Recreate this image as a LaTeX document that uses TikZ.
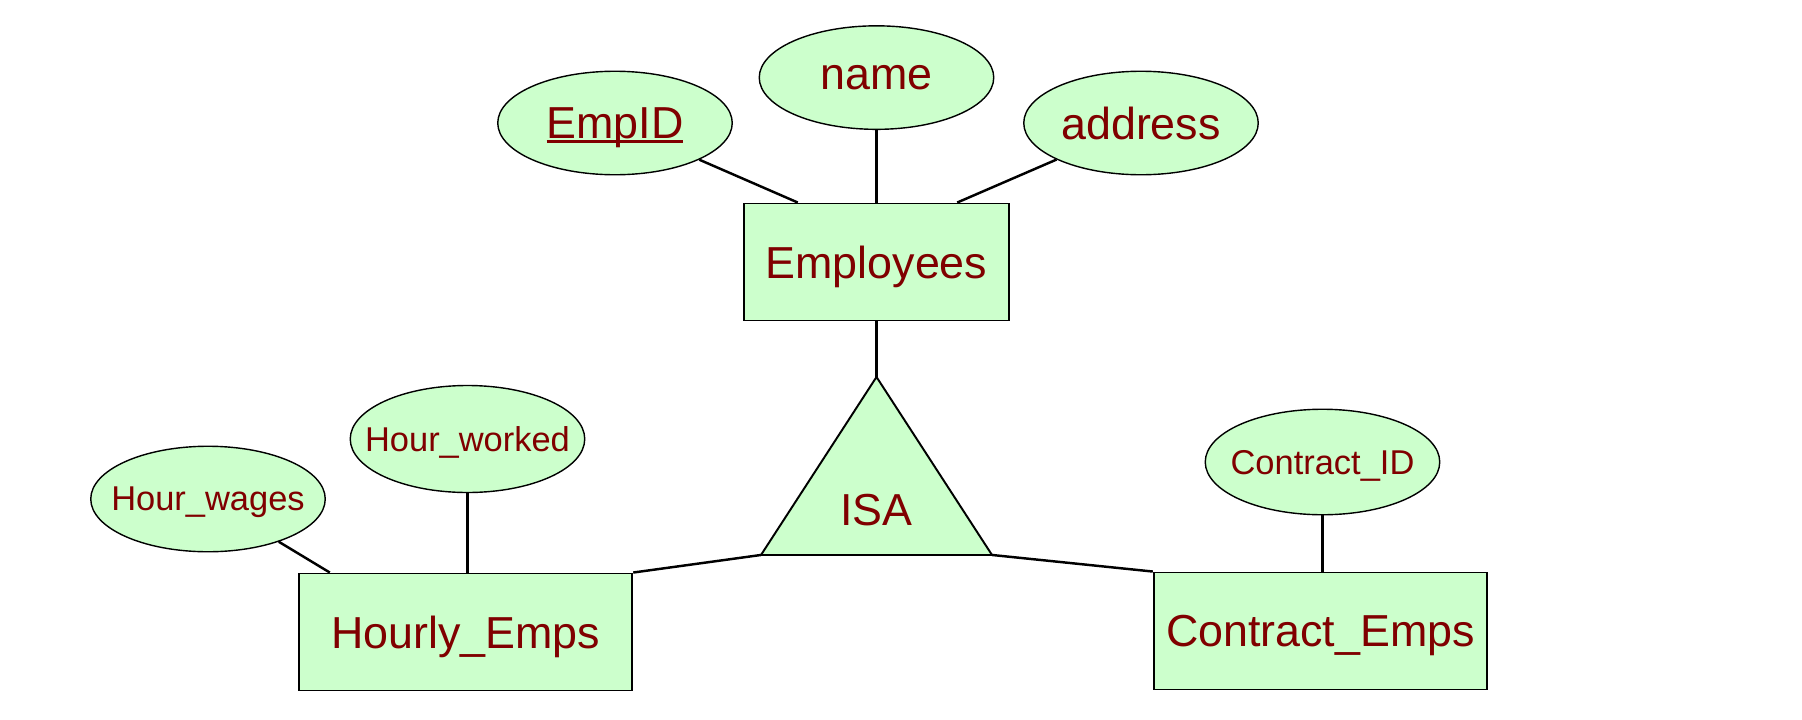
\documentclass[tikz,border=0pt]{standalone}
\usepackage{fontspec}
\setmainfont{Liberation Sans}
\usetikzlibrary{positioning,shapes.geometric,calc}

\definecolor{ergreen}{HTML}{CCFFCC}
\definecolor{erred}{HTML}{800000}
\newcommand{\bigtxt}{\fontsize{25.5}{30}\selectfont}
\newcommand{\smalltxt}{\fontsize{19.6}{23}\selectfont}
\newcommand{\fixw}[1]{\makebox[0pt]{#1}}
\newcommand{\keyul}[1]{\setbox0\hbox{#1}\rlap{\rule[-0.11em]{\wd0}{0.07em}}\box0}

\begin{document}
\begin{tikzpicture}[
    entity/.style={rectangle, draw=black, fill=ergreen, line width=1.1pt, minimum width=6.67cm, minimum height=2.34cm, inner sep=0pt, text depth=0pt, text=erred, font=\bigtxt},
    attr/.style={ellipse, draw=black, fill=ergreen, line width=0.8pt, minimum width=4.69cm, minimum height=2.07cm, inner sep=0pt, text depth=0pt, text=erred, font=\bigtxt},
    link/.style={draw=black, line width=1.4pt}
    ]
        \useasboundingbox (0,0) rectangle (36.04,-14.4);

        %Nodes
        \node[entity, minimum width=5.31cm]
            (emp)      at (17.53,-5.24)     {Employees};
        \node[attr]
            (name)     [above=1.45cm of emp] {name};
        \node[attr]
            (empid)    at (12.30,-2.46)     {\keyul{EmpID}};
        \node[attr]
            (address)  at (22.82,-2.46)     {address};

        \coordinate (isatop)   at ($(emp.south)+(0,-1.11)$);
        \coordinate (isaleft)  at ($(isatop)+(-2.31,-3.56)$);
        \coordinate (isaright) at ($(isatop)+(2.31,-3.56)$);

        \node[entity]
            (hourly)   at (9.31,-12.64)     {Hourly\_Emps};
        \node[attr, minimum height=2.14cm, font=\smalltxt]
            (hworked)  at (9.35,-8.78)      {\fixw{Hour\_worked}};
        \node[attr, minimum height=2.11cm, font=\smalltxt]
            (hwages)   at (4.16,-9.98)      {\fixw{Hour\_wages}};

        \node[entity]
            (contract) at (26.41,-12.62)    {Contract\_Emps};
        \node[attr, minimum height=2.11cm, font=\smalltxt]
            (cid)      at (26.45,-9.24)     {\fixw{Contract\_ID}};

        %ISA triangle
        \filldraw[fill=ergreen, draw=black, line width=1.1pt]
            (isatop) -- (isaleft) -- (isaright) -- cycle;
        \node[text=erred, font=\bigtxt]
            (isa)      at ($(isatop)+(0,-2.66)$) {ISA};

        %Lines
        \draw[link] (empid) -- ([xshift=1.1cm]emp.north west);
        \draw[link] (name) -- (name |- emp.north);
        \draw[link] (address) -- ([xshift=-1.06cm]emp.north east);
        \draw[link] (emp.south) -- (isatop);
        \draw[link] (hwages) -- ([xshift=0.64cm]hourly.north west);
        \draw[link] (hworked.south) -- (hworked.south |- hourly.north);
        \draw[link] (hourly.north east) -- (isaleft);
        \draw[link] (isaright) -- (contract.north west);
        \draw[link] (cid.south) -- (cid.south |- contract.north);
    \end{tikzpicture}
\end{document}
